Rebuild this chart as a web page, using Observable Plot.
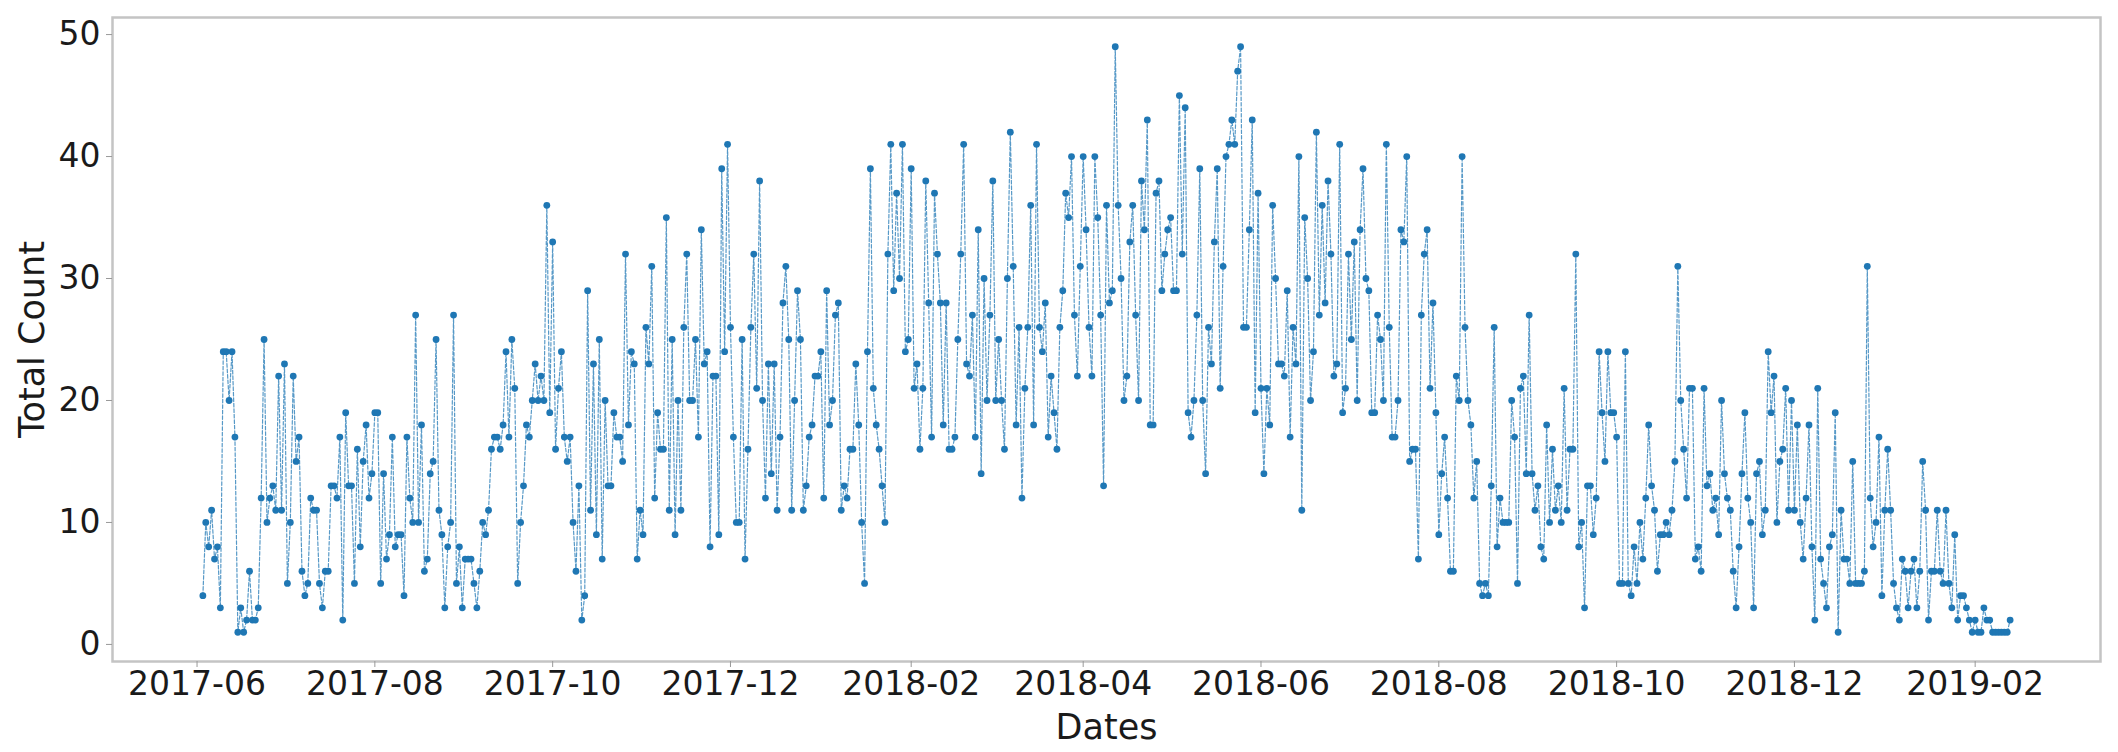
<!DOCTYPE html>
<html><head><meta charset="utf-8">
<script src="https://cdn.jsdelivr.net/npm/d3@7"></script>
<script src="https://cdn.jsdelivr.net/npm/@observablehq/plot@0.6"></script>
<style>body{margin:0;background:#fff} svg{display:block}</style>
</head><body><div id="chart"></div>
<script>
// First day of the daily series; every following value is the next day.
const startDate = "2017-06-03";

const countsJun2017 = [4, 10, 8, 11, 7, 8, 3, 24, 24, 20, 24, 17, 1, 3, 1, 2, 6, 2, 2, 3, 12, 25, 10, 12, 13, 11, 22, 11, 23, 5, 10, 22, 15, 17, 6, 4, 5, 12, 11, 11, 5, 3, 6, 6, 13, 13, 12, 17, 2, 19];
const countsAug2017 = [13, 13, 5, 16, 8, 15, 18, 12, 14, 19, 19, 5, 14, 7, 9, 17, 8, 9, 9, 4, 17, 12, 10, 27, 10, 18, 6, 7, 14, 15, 25, 11, 9, 3, 8, 10, 27, 5, 8, 3, 7, 7, 7, 5, 3, 6, 10, 9, 11, 16, 17];
const countsSep2017 = [17, 16, 18, 24, 17, 25, 21, 5, 10, 13, 18, 17, 20, 23, 20, 22, 20, 36, 19, 33, 16, 21, 24, 17, 15, 17, 10, 6, 13, 2, 4, 29, 11, 23, 9, 25, 7, 20, 13, 13, 19, 17, 17, 15, 32, 18, 24, 23, 7, 11, 9, 26, 23];
const countsNov2017 = [31, 12, 19, 16, 16, 35, 11, 25, 9, 20, 11, 26, 32, 20, 20, 25, 17, 34, 23, 24, 8, 22, 22, 9, 39, 24, 41, 26, 17, 10, 10, 25, 7, 16, 26, 32, 21, 38, 20, 12, 23, 14, 23, 11, 17, 28, 31, 25, 11, 20];
const countsDec2017 = [29, 25, 11, 13, 17, 18, 22, 22, 24, 12, 29, 18, 20, 27, 28, 11, 13, 12, 16, 16, 23, 18, 10, 5, 24, 39, 21, 18, 16, 13, 10, 32, 41, 29, 37, 30, 41, 24, 25, 39, 21, 23, 16, 21, 38, 28, 17, 37, 32, 28, 18];
const countsFeb2018 = [28, 16, 16, 17, 25, 32, 41, 23, 22, 27, 17, 34, 14, 30, 20, 27, 38, 20, 25, 20, 16, 30, 42, 31, 18, 26, 12, 21, 26, 36, 18, 41, 26, 24, 28, 17, 22, 19, 16, 26, 29, 37, 35, 40, 27, 22, 31, 40, 34, 26, 22];
const countsApr2018 = [40, 35, 27, 13, 36, 28, 29, 49, 36, 30, 20, 22, 33, 36, 27, 20, 38, 34, 43, 18, 18, 37, 38, 29, 32, 34, 35, 29, 29, 45, 32, 44, 19, 17, 20, 27, 39, 20, 14, 26, 23, 33, 39, 21, 31, 40, 41, 43, 41, 47, 49, 26];
const countsMay2018 = [26, 34, 43, 19, 37, 21, 14, 21, 18, 36, 30, 23, 23, 22, 29, 17, 26, 23, 40, 11, 35, 30, 20, 24, 42, 27, 36, 28, 38, 32, 22, 23, 41, 19, 21, 32, 25, 33, 20, 34, 39, 30, 29, 19, 19, 27, 25, 20, 41, 26, 17];
const countsJul2018 = [17, 20, 34, 33, 40, 15, 16, 16, 7, 27, 32, 34, 21, 28, 19, 9, 14, 17, 12, 6, 6, 22, 20, 40, 26, 20, 18, 12, 15, 5, 4, 5, 4, 13, 26, 8, 12, 10, 10, 10, 20, 17, 5, 21, 22, 14, 27, 14, 11, 13, 8];
const countsSep2018 = [7, 18, 10, 16, 11, 13, 10, 21, 11, 16, 16, 32, 8, 10, 3, 13, 13, 9, 12, 24, 19, 15, 24, 19, 19, 17, 5, 5, 24, 5, 4, 8, 5, 10, 7, 12, 18, 13, 11, 6, 9, 9, 10, 9, 11, 15, 31, 20, 16, 12, 21, 21];
const countsNov2018 = [7, 8, 6, 21, 13, 14, 11, 12, 9, 20, 14, 12, 11, 6, 3, 8, 14, 19, 12, 10, 3, 14, 15, 9, 11, 24, 19, 22, 10, 15, 16, 21, 11, 20, 11, 18, 10, 7, 12, 18, 8, 2, 21, 7, 5, 3, 8, 9, 19, 1, 11];
const countsDec2018 = [7, 7, 5, 15, 5, 5, 5, 6, 31, 12, 8, 10, 17, 4, 11, 16, 11, 5, 3, 2, 7, 6, 3, 6, 7, 3, 6, 15, 11, 2, 6, 6, 11, 6, 5, 11, 5, 3, 9, 2, 4, 4, 3, 2, 1, 2, 1, 1, 3, 2, 2, 1, 1, 1, 1, 1, 1, 2];

const xTickLabels = ["2017-06", "2017-08", "2017-10", "2017-12", "2018-02", "2018-04", "2018-06", "2018-08", "2018-10", "2018-12", "2019-02"];
const yTicks = [0, 10, 20, 30, 40, 50];
const xLabel = "Dates";
const yLabel = "Total Count";

const counts = [].concat(countsJun2017, countsAug2017, countsSep2017, countsNov2017, countsDec2017,
  countsFeb2018, countsApr2018, countsMay2018, countsJul2018, countsSep2018, countsNov2018, countsDec2018);
const start = new Date(startDate + "T00:00:00Z");
const data = counts.map((v, i) => ({date: d3.utcDay.offset(start, i), count: v}));
const xTicks = xTickLabels.map(s => new Date(s + "-01T00:00:00Z"));

const chart = Plot.plot({
  width: 2118,
  height: 752,
  marginLeft: 112,
  marginRight: 18,
  marginTop: 17,
  marginBottom: 91,
  style: {fontFamily: "DejaVu Sans", fontSize: "33px", color: "#1a1a1a", background: "#fff"},
  x: {type: "utc", domain: [new Date("2017-05-03T00:00:00Z"), new Date("2019-03-16T00:00:00Z")]},
  y: {domain: [-1.4, 51.4]},
  marks: [
    Plot.frame({stroke: "#c4c4c4", strokeWidth: 2.5}),
    Plot.axisX({ticks: xTicks, tickFormat: d3.utcFormat("%Y-%m"), label: null, tickSize: 6, tickPadding: 4, stroke: "#999", fontSize: 33}),
    Plot.axisY({ticks: yTicks, label: null, tickSize: 6, tickPadding: 6, stroke: "#999", fontSize: 33}),
    Plot.line(data, {x: "date", y: "count", stroke: "#1f77b4", strokeWidth: 1.2, strokeDasharray: "3.5,2", strokeOpacity: 0.75}),
    Plot.dot(data, {x: "date", y: "count", r: 3.4, fill: "#1f77b4", stroke: "none"}),
    Plot.text([xLabel], {text: d => d, frameAnchor: "bottom", lineAnchor: "middle", textAnchor: "middle", dy: 66, fontSize: 35, fill: "#1a1a1a"}),
    Plot.text([yLabel], {text: d => d, frameAnchor: "left", lineAnchor: "middle", textAnchor: "middle", dx: -80, rotate: -90, fontSize: 35, fill: "#1a1a1a"})
  ]
});
document.getElementById("chart").append(chart);
</script>
</body></html>
